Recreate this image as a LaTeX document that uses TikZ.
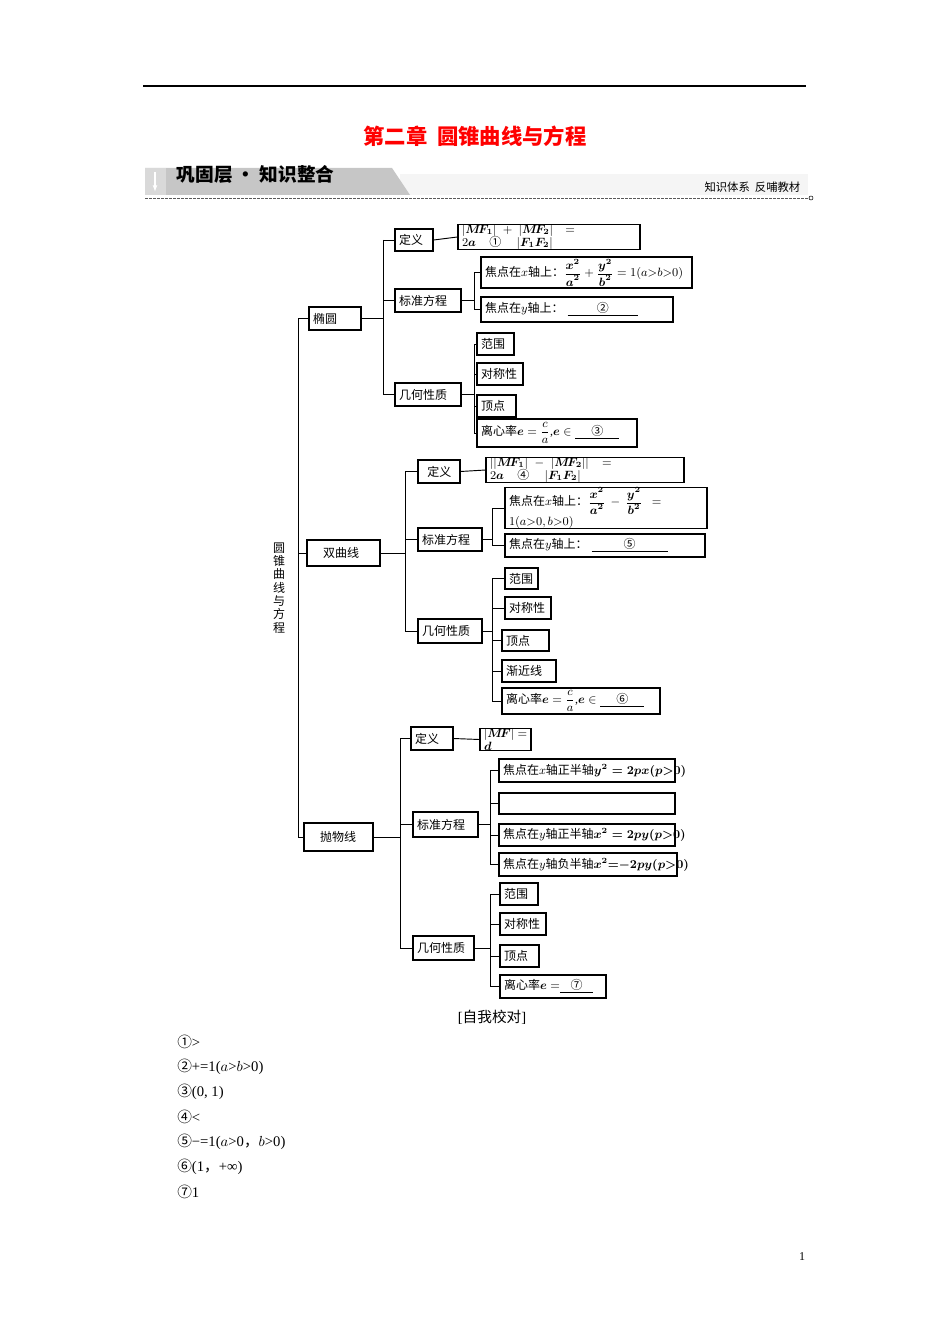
\documentclass[tikz,border=0pt]{standalone}
\usepackage{amsmath}
\usepackage{fontspec}
\usetikzlibrary{arrows.meta}
\setmainfont{Liberation Serif}
\newfontfamily\cjk{Noto Sans CJK SC}
\newcommand{\zh}[1]{{\cjk #1}}
\newcommand{\blank}[2]{\underline{\hspace{#1}\zh{#2}\hspace{#1}}}
\begin{document}
\begin{tikzpicture}[x=0.75pt,y=-0.75pt,
  box/.style={draw,line width=0.8pt,inner sep=0pt,font=\fontsize{9}{10}\selectfont,align=left},
  ln/.style={line width=0.7pt}]
\useasboundingbox (0,0) rectangle (950,1344);
\newcommand{\bx}[6]{%
  \pgfmathsetmacro{\cxx}{(#2+#4)/2}\pgfmathsetmacro{\cyy}{(#3+#5)/2}%
  \pgfmathsetmacro{\ww}{(#4-#2)*0.75}\pgfmathsetmacro{\hh}{(#5-#3)*0.75}%
  \pgfmathsetmacro{\tw}{\ww-6}%
  \node[box,minimum height=\hh pt,text width=\tw pt,inner xsep=3pt] (#1) at (\cxx,\cyy) {#6};}
% header
\draw[line width=0.8pt] (143,86) -- (806,86);
\node[text=red,font=\cjk\bfseries\fontsize{16}{18}\selectfont] (title) at (475,136) {第二章\ \ 圆锥曲线与方程};
\fill[gray!8] (400,174) rectangle (808,195);
\fill[gray!45] (145,168) -- (392,168) -- (410,195) -- (145,195) -- cycle;
\fill[gray!30] (145,168) rectangle (166,195);
\draw[white,line width=2pt,-{Latex[length=5pt]}] (155,172) -- (155,192);
\node[anchor=west,font=\cjk\bfseries\fontsize{14}{16}\selectfont] (band) at (172,174) {巩固层 · 知识整合};
\node[anchor=east,font=\cjk\fontsize{8.5}{10}\selectfont] (sub) at (805,187) {知识体系\ \ 反哺教材};
\draw[dash pattern=on 2pt off 1pt,gray!70!black] (145,198) -- (808,198);
\draw (811,198) circle (2);
% spine
\node[font=\cjk\fontsize{9}{10}\selectfont,align=center] (root) at (279,588) {圆\\锥\\曲\\线\\与\\方\\程};
\coordinate (sp) at (298,0);
\bx{ell}{309}{307}{361}{330}{\zh{椭圆}}
\bx{hyp}{307}{540}{380}{566}{\hspace{9pt}\zh{双曲线}}
\bx{par}{304}{823}{373}{851}{\hspace{9pt}\zh{抛物线}}
\draw[ln] (sp|-ell.west) -- (sp|-par.west) -- (par.west);
\draw[ln] (sp|-ell.west) -- (ell.west);
\draw[ln] (sp|-hyp.west) -- (hyp.west);
% ellipse
\coordinate (eT) at (383,0);
\bx{ed}{395}{229}{433}{251}{\zh{定义}}
\bx{edf}{458}{226}{640}{248}{$|\boldsymbol{M\!F_1}|+|\boldsymbol{M\!F_2}|=2\boldsymbol a$\blank{10pt}{①}\,$|\boldsymbol{F_1F_2}|$}
\bx{es}{395}{289}{461}{312}{\zh{标准方程}}
\bx{eg}{395}{383}{461}{406}{\zh{几何性质}}
\draw[ln] (ell.east) -- (eT|-ell.east);
\draw[ln] (eT|-ed.west) -- (eT|-eg.west);
\foreach \n in {ed,es,eg} \draw[ln] (eT|-\n.west) -- (\n.west);
\draw[ln] (ed.east) -- (edf.west);
\coordinate (esT) at (474,0);
\bx{es1}{481}{257}{692}{288}{\zh{焦点在}$x$\zh{轴上：}$\dfrac{\boldsymbol{x^2}}{\boldsymbol{a^2}}+\dfrac{\boldsymbol{y^2}}{\boldsymbol{b^2}}=1(a{>}b{>}0)$}
\bx{es2}{481}{297}{673}{322}{\zh{焦点在}$y$\zh{轴上：}\ \blank{22pt}{②}}
\draw[ln] (es.east) -- (esT|-es.east);
\draw[ln] (esT|-es1.west) -- (esT|-es2.west);
\foreach \n in {es1,es2} \draw[ln] (esT|-\n.west) -- (\n.west);
\bx{eg1}{477}{333}{514}{355}{\zh{范围}}
\bx{eg2}{477}{363}{523}{385}{\zh{对称性}}
\bx{eg3}{477}{395}{516}{417}{\zh{顶点}}
\bx{eg4}{477}{419}{637}{447}{\zh{离心率}$\boldsymbol e=\dfrac{c}{a}$,$\boldsymbol e\in$\ \blank{12pt}{③}}
\draw[ln] (eg.east) -- (esT|-eg.east);
\draw[ln] (esT|-eg1.west) -- (esT|-eg4.west);
\foreach \n in {eg1,eg2,eg3,eg4} \draw[ln] (esT|-\n.west) -- (\n.west);
% hyperbola
\coordinate (hT) at (405,0);
\bx{hd}{418}{460}{460}{483}{\hspace{4pt}\zh{定义}}
\bx{hdf}{486}{458}{684}{482}{$||\boldsymbol{M\!F_1}|-|\boldsymbol{M\!F_2}||=2\boldsymbol a$\blank{10pt}{④}\,$|\boldsymbol{F_1F_2}|$}
\bx{hs}{418}{528}{482}{551}{\zh{标准方程}}
\bx{hg}{418}{619}{482}{643}{\zh{几何性质}}
\draw[ln] (hyp.east) -- (hT|-hyp.east);
\draw[ln] (hT|-hd.west) -- (hT|-hg.west);
\foreach \n in {hd,hs,hg} \draw[ln] (hT|-\n.west) -- (\n.west);
\draw[ln] (hd.east) -- (hdf.west);
\coordinate (hsT) at (492,0);
\bx{hs1}{505}{491}{707}{525}{\zh{焦点在}$x$\zh{轴上：}$\dfrac{\boldsymbol{x^2}}{\boldsymbol{a^2}}-\dfrac{\boldsymbol{y^2}}{\boldsymbol{b^2}}=1(a{>}0,b{>}0)$}
\bx{hs2}{505}{534}{705}{557}{\zh{焦点在}$y$\zh{轴上：}\ \blank{24pt}{⑤}}
\draw[ln] (hs.east) -- (hsT|-hs.east);
\draw[ln] (hsT|-hs1.west) -- (hsT|-hs2.west);
\foreach \n in {hs1,hs2} \draw[ln] (hsT|-\n.west) -- (\n.west);
\bx{hg1}{505}{568}{538}{589}{\zh{范围}}
\bx{hg2}{505}{597}{551}{619}{\zh{对称性}}
\bx{hg3}{502}{630}{549}{651}{\zh{顶点}}
\bx{hg4}{502}{660}{556}{682}{\zh{渐近线}}
\bx{hg5}{502}{688}{660}{714}{\zh{离心率}$\boldsymbol e=\dfrac{c}{a}$,$\boldsymbol e\in$\ \blank{12pt}{⑥}}
\draw[ln] (hg.east) -- (hsT|-hg.east);
\draw[ln] (hsT|-hg1.west) -- (hsT|-hg5.west);
\foreach \n in {hg1,hg2,hg3,hg4,hg5} \draw[ln] (hsT|-\n.west) -- (\n.west);
% parabola
\coordinate (pT) at (400,0);
\bx{pd}{411}{727}{453}{750}{\zh{定义}}
\bx{pdf}{480}{729}{531}{750}{$|\boldsymbol{M\!F}|=\boldsymbol d$}
\bx{ps}{413}{812}{478}{837}{\zh{标准方程}}
\bx{pg}{413}{936}{474}{960}{\zh{几何性质}}
\draw[ln] (par.east) -- (pT|-par.east);
\draw[ln] (pT|-pd.west) -- (pT|-pg.west);
\foreach \n in {pd,ps,pg} \draw[ln] (pT|-\n.west) -- (\n.west);
\draw[ln] (pd.east) -- (pdf.west);
\coordinate (psT) at (490,0);
\bx{ps1}{499}{759}{675}{782}{\zh{焦点在}$x$\zh{轴正半轴}$\boldsymbol{y^2=2px(p{>}0)}$}
\bx{ps2}{499}{793}{675}{814}{}
\bx{ps3}{499}{824}{675}{846}{\zh{焦点在}$y$\zh{轴正半轴}$\boldsymbol{x^2=2py(p{>}0)}$}
\bx{ps4}{499}{853}{677}{876}{\zh{焦点在}$y$\zh{轴负半轴}$\boldsymbol{x^2{=}{-}2py(p{>}0)}$}
\draw[ln] (ps.east) -- (psT|-ps.east);
\draw[ln] (psT|-ps1.west) -- (psT|-ps4.west);
\foreach \n in {ps1,ps2,ps3,ps4} \draw[ln] (psT|-\n.west) -- (\n.west);
\bx{pg1}{500}{883}{538}{905}{\zh{范围}}
\bx{pg2}{500}{913}{546}{935}{\zh{对称性}}
\bx{pg3}{500}{945}{539}{967}{\zh{顶点}}
\bx{pg4}{500}{975}{606}{998}{\zh{离心率}$\boldsymbol e=$\blank{8pt}{⑦}}
\draw[ln] (pg.east) -- (psT|-pg.east);
\draw[ln] (psT|-pg1.west) -- (psT|-pg4.west);
\foreach \n in {pg1,pg2,pg3,pg4} \draw[ln] (psT|-\n.west) -- (\n.west);
% answers
\node[font=\fontsize{11}{12}\selectfont] (chk) at (492,1017) {[\zh{自我校对}]};
\begin{scope}[every node/.style={anchor=west,font=\fontsize{11}{12}\selectfont,inner sep=0pt}]
\node (a1) at (177,1042) {\zh{①}>};
\node (a2) at (177,1067) {\zh{②}+=1($a$>$b$>0)};
\node (a3) at (177,1092) {\zh{③}(0, 1)};
\node (a4) at (177,1117) {\zh{④}<};
\node (a5) at (177,1142) {\zh{⑤}−=1($a$>0\zh{，}$b$>0)};
\node (a6) at (177,1167) {\zh{⑥}(1\zh{，}+∞)};
\node (a7) at (177,1192) {\zh{⑦}1};
\end{scope}
\node[font=\fontsize{9}{10}\selectfont] (pn) at (802,1257) {1};
\end{tikzpicture}
\end{document}
